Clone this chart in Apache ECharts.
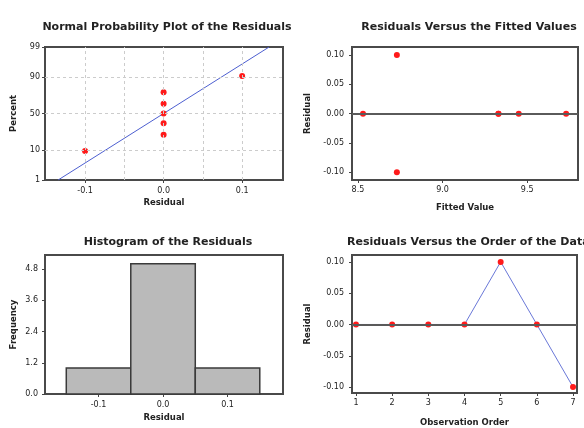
<!DOCTYPE html>
<html>
<head>
<meta charset="utf-8">
<script src="https://cdn.jsdelivr.net/npm/echarts@6/dist/echarts.min.js"></script>
<style>
  html, body { margin: 0; padding: 0; background: #fff; }
  #chart { width: 584px; height: 428px; }
</style>
</head>
<body>
<div id="chart"></div>
<script>
// Residuals in observation order
const observationOrder = [1, 2, 3, 4, 5, 6, 7];
const residuals = [0, 0, 0, 0, 0.1, 0, -0.1];
// Fitted values for the same observations
const fittedValues = [8.53, 9.33, 9.45, 9.73, 8.73, 9.33, 8.73];

// Normal probability plot: sorted residuals and their plotting percentages
const sortedResiduals = [-0.1, 0, 0, 0, 0, 0, 0.1];
const plotPercents = [9.46, 22.97, 36.49, 50, 63.51, 77.03, 90.54];
// Fitted normal line endpoints (residual, percent)
const fitLine = [[-0.1343, 1], [0.1343, 99]];
const percentTicks = [1, 10, 50, 90, 99];
const percentGrid = [10, 50, 90];

// Histogram bins
const binStarts = [-0.15, -0.05, 0.05];
const binEnds = [-0.05, 0.05, 0.15];
const binCounts = [1, 5, 1];
const freqTicks = [0, 1.2, 2.4, 3.6, 4.8];

const residTicks = [-0.1, -0.05, 0, 0.05, 0.1];
const fittedTicks = [8.5, 9.0, 9.5];

// Inverse standard normal CDF (probability scale for the percent axis)
function probit(p) {
  const a = [-3.969683028665376e+01, 2.209460984245205e+02, -2.759285104469687e+02, 1.383577518672690e+02, -3.066479806614716e+01, 2.506628277459239e+00];
  const b = [-5.447609879822406e+01, 1.615858368580409e+02, -1.556989798598866e+02, 6.680131188771972e+01, -1.328068155288572e+01];
  const c = [-7.784894002430293e-03, -3.223964580411365e-01, -2.400758277161838e+00, -2.549732539343734e+00, 4.374664141464968e+00, 2.938163982698783e+00];
  const d = [7.784695709041462e-03, 3.224671290700398e-01, 2.445134137142996e+00, 3.754408661907416e+00];
  const pl = 0.02425, ph = 1 - pl;
  let q, r;
  if (p < pl) {
    q = Math.sqrt(-2 * Math.log(p));
    return (((((c[0]*q+c[1])*q+c[2])*q+c[3])*q+c[4])*q+c[5]) / ((((d[0]*q+d[1])*q+d[2])*q+d[3])*q+1);
  } else if (p <= ph) {
    q = p - 0.5; r = q * q;
    return (((((a[0]*r+a[1])*r+a[2])*r+a[3])*r+a[4])*r+a[5])*q / (((((b[0]*r+b[1])*r+b[2])*r+b[3])*r+b[4])*r+1);
  } else {
    q = Math.sqrt(-2 * Math.log(1 - p));
    return -(((((c[0]*q+c[1])*q+c[2])*q+c[3])*q+c[4])*q+c[5]) / ((((d[0]*q+d[1])*q+d[2])*q+d[3])*q+1);
  }
}
const pz = pct => probit(pct / 100);

const FONT = "'DejaVu Sans', Verdana, sans-serif";
const labelStyle = { fontFamily: FONT, fontSize: 8, color: '#222' };
const nameStyle = { fontFamily: FONT, fontSize: 8.5, fontWeight: 'bold', color: '#222' };
const tickStyle = { show: true, length: 3, lineStyle: { color: '#444', width: 1 } };
const noLine = { show: false, onZero: false };
const frame = { show: true, borderColor: '#4a4a4a', borderWidth: 2, backgroundColor: '#fff' };
const titleFont = { fontFamily: FONT, fontSize: 11, fontWeight: 'bold', color: '#222' };
const pointStyle = { color: '#ff1a1a', opacity: 1 };

const option = {
  backgroundColor: '#fff',
  animation: false,
  title: [
    { text: 'Normal Probability Plot of the Residuals', left: 162, top: 17, textAlign: 'center', textStyle: titleFont },
    { text: 'Residuals Versus the Fitted Values', left: 464, top: 17, textAlign: 'center', textStyle: titleFont },
    { text: 'Histogram of the Residuals', left: 163, top: 232, textAlign: 'center', textStyle: titleFont },
    { text: 'Residuals Versus the Order of the Data', left: 342, top: 232, textStyle: titleFont }
  ],
  grid: [
    Object.assign({ left: 45, top: 47, width: 238, height: 133 }, frame),
    Object.assign({ left: 352, top: 47, width: 226, height: 133 }, frame),
    Object.assign({ left: 45, top: 255, width: 238, height: 139 }, frame),
    Object.assign({ left: 352, top: 255, width: 225, height: 139 }, frame)
  ],
  xAxis: [
    {
      gridIndex: 0, type: 'value', min: -0.151, max: 0.152,
      name: 'Residual', nameLocation: 'middle', nameGap: 18, nameTextStyle: nameStyle,
      axisLine: noLine,
      axisTick: Object.assign({ customValues: [-0.1, 0, 0.1] }, tickStyle),
      axisLabel: Object.assign({ customValues: [-0.1, 0, 0.1], margin: 7, formatter: v => v.toFixed(1) }, labelStyle),
      splitLine: { show: false }
    },
    {
      gridIndex: 1, type: 'value', min: 8.465, max: 9.8,
      name: 'Fitted Value', nameLocation: 'middle', nameGap: 23, nameTextStyle: nameStyle,
      axisLine: noLine,
      axisTick: Object.assign({ customValues: fittedTicks }, tickStyle),
      axisLabel: Object.assign({ customValues: fittedTicks, margin: 6, formatter: v => v.toFixed(1) }, labelStyle),
      splitLine: { show: false }
    },
    {
      gridIndex: 2, type: 'value', min: -0.183, max: 0.186,
      name: 'Residual', nameLocation: 'middle', nameGap: 19, nameTextStyle: nameStyle,
      axisLine: noLine,
      axisTick: Object.assign({ customValues: [-0.1, 0, 0.1] }, tickStyle),
      axisLabel: Object.assign({ customValues: [-0.1, 0, 0.1], margin: 7, formatter: v => v.toFixed(1) }, labelStyle),
      splitLine: { show: false }
    },
    {
      gridIndex: 3, type: 'value', min: 0.89, max: 7.11,
      name: 'Observation Order', nameLocation: 'middle', nameGap: 25, nameTextStyle: nameStyle,
      axisLine: noLine,
      axisTick: Object.assign({ customValues: observationOrder }, tickStyle),
      axisLabel: Object.assign({ customValues: observationOrder, margin: 6, formatter: v => String(Math.round(v)) }, labelStyle),
      splitLine: { show: false }
    }
  ],
  yAxis: [
    {
      gridIndex: 0, type: 'value', min: pz(1), max: pz(99),
      name: 'Percent', nameLocation: 'middle', nameGap: 27, nameTextStyle: nameStyle,
      axisLine: noLine,
      axisTick: Object.assign({ customValues: percentTicks.map(pz) }, tickStyle),
      axisLabel: Object.assign({
        customValues: percentTicks.map(pz), margin: 5,
        formatter: v => {
          let best = percentTicks[0];
          percentTicks.forEach(p => { if (Math.abs(pz(p) - v) < Math.abs(pz(best) - v)) best = p; });
          return String(best);
        }
      }, labelStyle),
      splitLine: { show: false }
    },
    {
      gridIndex: 1, type: 'value', min: -0.113, max: 0.1135,
      name: 'Residual', nameLocation: 'middle', nameGap: 40, nameTextStyle: nameStyle,
      axisLine: noLine,
      axisTick: Object.assign({ customValues: residTicks }, tickStyle),
      axisLabel: Object.assign({ customValues: residTicks, margin: 8, formatter: v => v.toFixed(2) }, labelStyle),
      splitLine: { show: false }
    },
    {
      gridIndex: 2, type: 'value', min: 0, max: 5.34,
      name: 'Frequency', nameLocation: 'middle', nameGap: 27, nameTextStyle: nameStyle,
      axisLine: noLine,
      axisTick: Object.assign({ customValues: freqTicks }, tickStyle),
      axisLabel: Object.assign({ customValues: freqTicks, margin: 7, formatter: v => v.toFixed(1) }, labelStyle),
      splitLine: { show: false }
    },
    {
      gridIndex: 3, type: 'value', min: -0.1095, max: 0.111,
      name: 'Residual', nameLocation: 'middle', nameGap: 40, nameTextStyle: nameStyle,
      axisLine: noLine,
      axisTick: Object.assign({ customValues: residTicks }, tickStyle),
      axisLabel: Object.assign({ customValues: residTicks, margin: 8, formatter: v => v.toFixed(2) }, labelStyle),
      splitLine: { show: false }
    }
  ],
  series: [
    // dashed reference grid of the probability plot
    {
      type: 'line', xAxisIndex: 0, yAxisIndex: 0, data: [], silent: true, z: 1,
      markLine: {
        symbol: 'none', silent: true, label: { show: false },
        lineStyle: { color: '#cccccc', type: [3, 3], width: 1 },
        data: residTicks.map(v => ({ xAxis: v })).concat(percentGrid.map(p => ({ yAxis: pz(p) })))
      }
    },
    {
      type: 'line', xAxisIndex: 0, yAxisIndex: 0, symbol: 'none', z: 2,
      lineStyle: { color: '#4d5fd0', width: 1 },
      data: fitLine.map(d => [d[0], pz(d[1])])
    },
    {
      type: 'scatter', xAxisIndex: 0, yAxisIndex: 0, symbol: 'circle', symbolSize: 6, z: 3,
      itemStyle: pointStyle,
      data: sortedResiduals.map((r, i) => [r, pz(plotPercents[i])])
    },
    // zero reference lines
    {
      type: 'line', xAxisIndex: 1, yAxisIndex: 1, data: [], silent: true, z: 1,
      markLine: {
        symbol: 'none', silent: true, label: { show: false },
        lineStyle: { color: '#5a5a5a', type: 'solid', width: 2 },
        data: [{ yAxis: 0 }]
      }
    },
    {
      type: 'line', xAxisIndex: 3, yAxisIndex: 3, data: [], silent: true, z: 1,
      markLine: {
        symbol: 'none', silent: true, label: { show: false },
        lineStyle: { color: '#5a5a5a', type: 'solid', width: 2 },
        data: [{ yAxis: 0 }]
      }
    },
    // residuals versus fits
    {
      type: 'scatter', xAxisIndex: 1, yAxisIndex: 1, symbol: 'circle', symbolSize: 6, z: 3,
      itemStyle: pointStyle,
      data: fittedValues.map((f, i) => [f, residuals[i]])
    },
    // histogram
    {
      type: 'custom', xAxisIndex: 2, yAxisIndex: 2,
      encode: { x: [0, 1], y: 2 },
      data: binStarts.map((s, i) => [s, binEnds[i], binCounts[i]]),
      renderItem: (params, api) => {
        const p0 = api.coord([api.value(0), api.value(2)]);
        const p1 = api.coord([api.value(1), 0]);
        return {
          type: 'rect',
          shape: { x: p0[0], y: p0[1], width: p1[0] - p0[0], height: p1[1] - p0[1] },
          style: { fill: '#bababa', stroke: '#3a3a3a', lineWidth: 1.5 }
        };
      }
    },
    // residuals versus order
    {
      type: 'line', xAxisIndex: 3, yAxisIndex: 3, symbol: 'circle', symbolSize: 6, z: 3,
      lineStyle: { color: '#6a78d8', width: 1 },
      itemStyle: pointStyle,
      data: observationOrder.map((o, i) => [o, residuals[i]])
    }
  ]
};

const chart = echarts.init(document.getElementById('chart'), null, { renderer: 'canvas' });
chart.setOption(option);
</script>
</body>
</html>
